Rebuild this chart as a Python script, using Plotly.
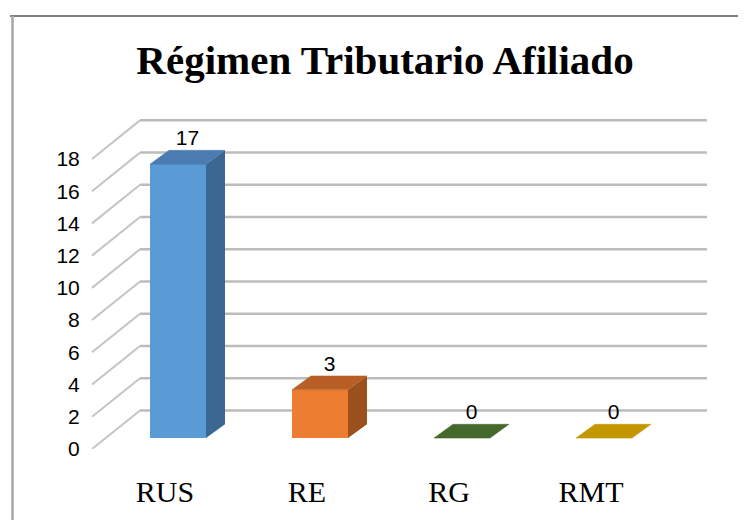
import plotly.graph_objects as go

# ---- data ----
categories = ["RUS", "RE", "RG", "RMT"]
values = [17, 3, 0, 0]
tick_values = [0, 2, 4, 6, 8, 10, 12, 14, 16, 18]
tick_labels = [str(v) for v in tick_values]
title_text = "Régimen Tributario Afiliado"

front_colors = ["#5B9BD5", "#ED7D31", "#70AD47", "#FFC000"]
top_colors = ["#4A7CB1", "#B75F24", "#45682B", "#C49700"]
side_colors = ["#3B6890", "#9B501E", "#3A5924", "#A67F00"]

# ---- geometry (pixels, in page coordinates; page body has an 8px margin) ----
OFF = 8
W_FIG, H_FIG = 746 - OFF, 520 - OFF
PLOT_LEFT, PLOT_RIGHT, PLOT_TOP, PLOT_BOTTOM = 90, 712, 100, 453  # page px
L, R = PLOT_LEFT - OFF, W_FIG - (PLOT_RIGHT - OFF)
T, B = PLOT_TOP - OFF, H_FIG - (PLOT_BOTTOM - OFF)
PX_PER_CAT = 142.0
PX_PER_UNIT = 16.3
CAT0_PX = 165.0           # page x pixel of first category on the front plane
WALL_DX, WALL_DY = 48, 39  # depth of the side wall (pixels)
BAR_F = (13, 11)           # bar front depth offset (px)
BAR_B = (32, 25)           # bar back depth offset (px)
BAR_W_PX = 56
GRID_LEFT_PX, GRID_RIGHT_PX = 92, 707

plot_w = W_FIG - L - R
plot_h = H_FIG - T - B

def px2x(px):
    return (px - CAT0_PX) / PX_PER_CAT

xr = [px2x(PLOT_LEFT), px2x(PLOT_RIGHT)]
yr = [0, (PLOT_BOTTOM - PLOT_TOP) / PX_PER_UNIT]

dxw, dyw = WALL_DX / PX_PER_CAT, WALL_DY / PX_PER_UNIT
fx, fy = BAR_F[0] / PX_PER_CAT, BAR_F[1] / PX_PER_UNIT
bx, by = BAR_B[0] / PX_PER_CAT, BAR_B[1] / PX_PER_UNIT
bw = BAR_W_PX / PX_PER_CAT

fig = go.Figure()

# gridlines (back wall + side wall diagonals) as shapes below traces
gx0 = px2x(GRID_LEFT_PX)
gx1 = px2x(GRID_RIGHT_PX)
shapes = []
for v in tick_values:
    shapes.append(dict(type="line", xref="x", yref="y", layer="below",
                       x0=gx0, y0=v, x1=gx0 + dxw, y1=v + dyw,
                       line=dict(color="#c4c4c4", width=2)))
    shapes.append(dict(type="line", xref="x", yref="y", layer="below",
                       x0=gx0 + dxw, y0=v + dyw, x1=gx1, y1=v + dyw,
                       line=dict(color="#bcbcbc", width=2.5)))

# frame lines (page px -> paper)
def pxp(px):
    return (px - PLOT_LEFT) / plot_w

def pyp(py):
    return (PLOT_BOTTOM - py) / plot_h

shapes.append(dict(type="line", xref="paper", yref="paper",
                   x0=pxp(10), y0=pyp(15), x1=pxp(760), y1=pyp(15),
                   line=dict(color="#808080", width=2)))
shapes.append(dict(type="line", xref="paper", yref="paper",
                   x0=pxp(12.5), y0=pyp(15), x1=pxp(12.5), y1=pyp(530),
                   line=dict(color="#a6a6a6", width=2.5)))

# front faces
fig.add_trace(go.Bar(
    x=[i + fx for i in range(len(categories))],
    y=values,
    base=fy,
    width=bw,
    marker=dict(color=front_colors, line=dict(width=0)),
    hoverinfo="skip",
    showlegend=False,
))

# side + top faces
for i, (v, tc, sc) in enumerate(zip(values, top_colors, side_colors)):
    xl, xrr = i - bw / 2, i + bw / 2
    if v > 0:
        fig.add_trace(go.Scatter(
            x=[xrr + fx, xrr + fx, xrr + bx, xrr + bx, xrr + fx],
            y=[fy, v + fy, v + by, by, fy],
            fill="toself", fillcolor=sc, mode="lines",
            line=dict(width=0, color=sc), hoverinfo="skip", showlegend=False))
    fig.add_trace(go.Scatter(
        x=[xl + fx, xrr + fx, xrr + bx, xl + bx, xl + fx],
        y=[v + fy, v + fy, v + by, v + by, v + fy],
        fill="toself", fillcolor=tc, mode="lines",
        line=dict(width=0.5, color=tc), hoverinfo="skip", showlegend=False))

# value labels
fig.add_trace(go.Scatter(
    x=[i + (fx + bx) / 2 for i in range(len(categories))],
    y=[v + by for v in values],
    mode="text",
    text=[str(v) for v in values],
    textposition="top center",
    textfont=dict(family="Liberation Sans Narrow, Arial Narrow, Liberation Sans", size=21, color="#000"),
    cliponaxis=False, hoverinfo="skip", showlegend=False))

fig.update_layout(
    width=W_FIG, height=H_FIG,
    margin=dict(l=L, r=R, t=T, b=B, pad=0),
    paper_bgcolor="white", plot_bgcolor="white",
    bargap=0,
    shapes=shapes,
    title=dict(text="<b>" + title_text + "</b>", x=(385 - OFF) / W_FIG, xanchor="center",
               y=1 - (60 - OFF) / H_FIG, yanchor="middle", yref="container",
               font=dict(family="Liberation Serif, Times New Roman, serif", size=41, color="#000")),
    xaxis=dict(range=xr, tickvals=list(range(len(categories))), ticktext=categories,
               showgrid=False, zeroline=False, showline=False,
               ticks="outside", ticklen=16, tickcolor="rgba(0,0,0,0)",
               tickfont=dict(family="Liberation Serif, Times New Roman, serif", size=30, color="#000"),
               fixedrange=True),
    yaxis=dict(range=yr, tickvals=tick_values, ticktext=tick_labels,
               showgrid=False, zeroline=False, showline=False,
               ticks="outside", ticklen=5, tickcolor="rgba(0,0,0,0)",
               tickfont=dict(family="Liberation Sans Narrow, Arial Narrow, Liberation Sans", size=21, color="#000"),
               fixedrange=True),
)

fig.write_html("out.html")
